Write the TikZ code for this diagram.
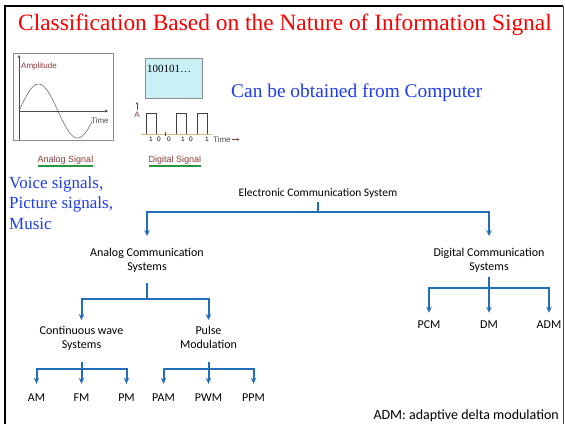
\documentclass[tikz,border=0pt]{standalone}
\usepackage{fontspec}
\setmainfont{Liberation Serif}
\newfontfamily\calfont{Carlito}
\newfontfamily\arialfont{Liberation Sans}
\usepackage{tikz}
\usetikzlibrary{arrows.meta,positioning,trees}
\definecolor{titlered}{RGB}{250,0,0}
\definecolor{noteblue}{RGB}{30,60,235}
\definecolor{forkblue}{RGB}{35,110,185}
\definecolor{axisbrown}{RGB}{140,55,55}
\definecolor{screencyan}{RGB}{200,240,245}
\definecolor{ulgreen}{RGB}{40,150,60}
\definecolor{basetan}{RGB}{215,185,130}
\newcommand{\stemlen}{10}

\begin{document}
\begin{tikzpicture}[
    x=1pt, y=-1pt,
    every node/.style={font=\calfont\fontsize{12}{14}\selectfont},
    lbl/.style={align=center, inner sep=1pt, execute at end node=\strut},
    stem/.store in=\stemlen,
    edge from parent/.style={draw=forkblue, line width=2pt,
                             -{Stealth[length=6pt, width=5.5pt]}},
    edge from parent path={(\tikzparentnode.south) -- ++(0,\stemlen)
                           -| (\tikzchildnode.north)},
    level 1/.style={level distance=67pt, sibling distance=342pt,
                    stem=10, shorten >=10.5pt},
    level 2/.style={level distance=78pt, sibling distance=123pt,
                    stem=23.5, shorten <=7.5pt, shorten >=4.5pt},
    level 3/.style={level distance=60pt, sibling distance=45pt,
                    stem=15.5, shorten <=8.5pt, shorten >=7pt},
    digi/.style={level distance=65pt, sibling distance=60pt,
                 stem=12.5, shorten <=1.5pt, shorten >=5pt},
    note/.style={font=\rmfamily\fontsize{17}{20.5}\selectfont, text=noteblue,
                 align=left, inner sep=0pt},
    tiny/.style={font=\arialfont\fontsize{8}{9}\selectfont, inner sep=0pt},
    caption/.style={font=\arialfont\fontsize{9}{10}\selectfont, text=axisbrown,
                    inner sep=0pt},
]
    \useasboundingbox (0,0) rectangle (565,424);
    % frame
    \draw[line width=2.6pt] (5,5) -- (5,424);
    \draw[line width=1.4pt] (4,6) -- (563,6);
    \draw[line width=0.8pt, black!70] (563,6) -- (563,424);

    \node[font=\rmfamily\fontsize{23.4}{27}\selectfont, text=titlered] (title)
        at (285,25) {Classification Based on the Nature of Information Signal};

    % analog sketch
    \draw[black!45] (13,53) rectangle (113,140);
    \draw[black!70, -{Stealth[length=3pt, width=3pt]}] (19,140) -- (19,55);
    \draw[black!70, -{Stealth[length=3pt, width=3pt]}] (19,111) -- (108,111);
    \draw[black!75, smooth, samples=60, domain=19:92]
        plot (\x, {111-27*sin((\x-19)/78*360)});
    \node[tiny, text=axisbrown, anchor=west] (amp) at (21,66) {Amplitude};
    \node[tiny, text=black!70, anchor=west] (atime) at (91,121) {Time};
    \node[caption] (asig) at (65.5,160) {Analog Signal};
    \draw[ulgreen, line width=1.2pt] ([yshift=-1.5pt]asig.south west)
        -- ([yshift=-1.5pt]asig.south east);

    % digital sketch
    \node[draw=black!45, fill=screencyan, anchor=north west, inner sep=0pt,
          minimum width=57pt, minimum height=40pt] (screen) at (145,58) {};
    \node[font=\rmfamily\fontsize{11}{13}\selectfont, anchor=north west,
          inner sep=0pt] (bits) at (147,65) {100101\ldots};
    \draw[basetan, line width=1pt] (141,134) -- (212,134);
    \foreach \px in {146,176,197}
        \draw[black!75] (\px,134) -- ++(0,-21) -- ++(10.5,0) -- ++(0,21);
    \draw[black!75] (165,132) -- (165,136);
    \foreach \bx/\bv [count=\i] in {151/1,159/0,169/0,183/1,191/0,207/1}
        \node[tiny, font=\arialfont\fontsize{6.5}{7}\selectfont] (bit\i)
            at (\bx,139.5) {\bv};
    \node[tiny, text=axisbrown] (ampa) at (137,115) {A};
    \draw[axisbrown, -{Stealth[length=2.5pt, width=2.5pt]}]
        (ampa.north) ++(0,-2) -- ++(0,-8);
    \node[tiny, text=black!70, anchor=west] (dtime) at (213,139.5) {Time};
    \draw[axisbrown, -{Stealth[length=2.5pt, width=2.5pt]}]
        (dtime.east) ++(1.5,0) -- ++(7,0);
    \node[caption] (dsig) at (175,160) {Digital Signal};
    \draw[ulgreen, line width=1.2pt] ([yshift=-1.5pt]dsig.south west)
        -- ([yshift=-1.5pt]dsig.south east);

    \node[note, font=\rmfamily\fontsize{19.4}{22}\selectfont, anchor=base west]
        (computer) at (231,97) {Can be obtained from Computer};
    \node[note, anchor=base west] (sources) at (9,229)
        {Voice signals,\\Picture signals,\\Music};

    % classification tree
    \node[lbl, font=\calfont\fontsize{11.5}{13.5}\selectfont] (ecs)
        at (318,194) {Electronic Communication System}
        child { node[lbl] (acs) {Analog Communication\\Systems}
            child[xshift=-4pt] { node[lbl] (cws) {Continuous wave\\Systems}
                child { node[lbl] (am) {AM} }
                child { node[lbl] (fm) {FM} }
                child { node[lbl] (pm) {PM} }
            }
            child { node[lbl] (pls) {Pulse\\Modulation}
                child { node[lbl] (pam) {PAM} }
                child { node[lbl] (pwm) {PWM} }
                child { node[lbl] (ppm) {PPM} }
            }
        }
        child { node[lbl] (dcs) {Digital Communication\\Systems}
            child[digi] { node[lbl] (pcm) {PCM} }
            child[digi] { node[lbl] (dm) {DM} }
            child[digi] { node[lbl] (adm) {ADM} }
        };

    \node[font=\calfont\fontsize{14}{16}\selectfont, anchor=base east,
          inner sep=0pt] (admnote) at (559,419) {ADM: adaptive delta modulation};
\end{tikzpicture}
\end{document}
